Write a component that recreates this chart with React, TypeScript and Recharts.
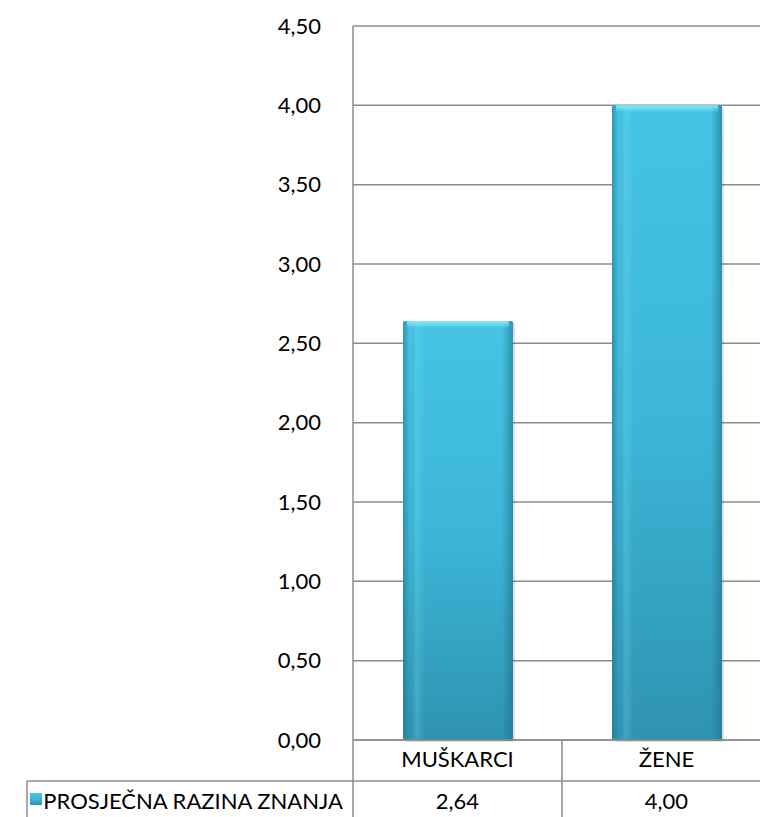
import { BarChart, Bar, XAxis, YAxis, CartesianGrid } from 'recharts';

const categories = ['MUŠKARCI', 'ŽENE'];
const values = [2.64, 4.0];
const seriesName = 'PROSJEČNA RAZINA ZNANJA';
const yTicks = [0, 0.5, 1, 1.5, 2, 2.5, 3, 3.5, 4, 4.5];

const data = categories.map((name, i) => ({ name, value: values[i] }));

const W = 771;
const H = 817;
const AXIS_W = 353;
const TOP = 26;
const TABLE_H = 77;
const PLOT_BOTTOM = H - TABLE_H;
const BAND = (W - AXIS_W) / categories.length;
const LINE = '#8c8c8c';
const FONT = 'Lato, sans-serif';
const FS = 22;
const LEGEND_LEFT = 27;

const fmt = (v: number) => v.toFixed(2).replace('.', ',');

function GlossBar(props: any) {
  const { x, y, width, height } = props;
  if (!height || height <= 0) return null;
  return (
    <g>
      <rect x={x + 2} y={y + 2} width={width} height={height} fill="#000" opacity={0.12} rx={2} />
      <rect x={x} y={y} width={width} height={height} fill="url(#barV)" rx={2} />
      <rect x={x} y={y} width={width} height={height} fill="url(#barH)" rx={2} />
      <rect x={x + 4} y={y} width={width - 8} height={7} fill="url(#barTop)" />
    </g>
  );
}

function TableTick(props: any) {
  const { payload, index } = props;
  const cx = payload.coordinate;
  const right = cx + BAND / 2;
  const rowMid = PLOT_BOTTOM + 41;
  return (
    <g>
      <text x={cx} y={PLOT_BOTTOM + 27} textAnchor="middle" fontSize={FS} fontFamily={FONT} fill="#000">
        {payload.value}
      </text>
      <text x={cx} y={rowMid + 28} textAnchor="middle" fontSize={FS} fontFamily={FONT} fill="#000">
        {fmt(values[index])}
      </text>
      <line x1={cx - BAND / 2} x2={right} y1={rowMid} y2={rowMid} stroke={LINE} strokeWidth={1.5} />
      <line x1={right} x2={right} y1={PLOT_BOTTOM} y2={H} stroke={LINE} strokeWidth={1.5} />
      {index === 0 && (
        <g>
          <line x1={LEGEND_LEFT} x2={AXIS_W} y1={rowMid} y2={rowMid} stroke={LINE} strokeWidth={1.5} />
          <line x1={LEGEND_LEFT} x2={LEGEND_LEFT} y1={rowMid} y2={H} stroke={LINE} strokeWidth={1.5} />
          <line x1={AXIS_W} x2={AXIS_W} y1={PLOT_BOTTOM} y2={H} stroke={LINE} strokeWidth={1.5} />
          <rect x={LEGEND_LEFT + 3} y={793} width={12} height={12} fill="url(#barV)" />
          <text x={AXIS_W - 10} y={rowMid + 28} textAnchor="end" fontSize={FS} fontFamily={FONT} fill="#000">
            {seriesName}
          </text>
        </g>
      )}
    </g>
  );
}

export default function App() {
  return (
    <div style={{ position: 'absolute', left: 0, top: 0, width: 760, height: 817, overflow: 'hidden', background: '#fff' }}>
      <BarChart width={W} height={H} data={data} margin={{ top: TOP, right: 0, bottom: 0, left: 0 }}>
        <defs>
          <linearGradient id="barV" x1="0" y1="0" x2="0" y2="1">
            <stop offset="0%" stopColor="#45c4e4" />
            <stop offset="50%" stopColor="#3cb6d8" />
            <stop offset="100%" stopColor="#2e93b0" />
          </linearGradient>
          <linearGradient id="barH" x1="0" y1="0" x2="1" y2="0">
            <stop offset="0%" stopColor="#1f6f86" stopOpacity={0.55} />
            <stop offset="6%" stopColor="#1f6f86" stopOpacity={0} />
            <stop offset="12%" stopColor="#7fe0f2" stopOpacity={0.25} />
            <stop offset="20%" stopColor="#7fe0f2" stopOpacity={0} />
            <stop offset="90%" stopColor="#1f6f86" stopOpacity={0} />
            <stop offset="100%" stopColor="#1f6f86" stopOpacity={0.6} />
          </linearGradient>
          <linearGradient id="barTop" x1="0" y1="0" x2="0" y2="1">
            <stop offset="0%" stopColor="#8ef0ff" stopOpacity={0.9} />
            <stop offset="100%" stopColor="#8ef0ff" stopOpacity={0} />
          </linearGradient>
        </defs>
        <CartesianGrid vertical={false} stroke={LINE} strokeWidth={1.5} />
        <XAxis
          dataKey="name"
          height={TABLE_H}
          axisLine={{ stroke: LINE, strokeWidth: 1.5 }}
          tickLine={false}
          tick={<TableTick />}
          interval={0}
        />
        <YAxis
          width={AXIS_W}
          domain={[0, 4.5]}
          ticks={yTicks}
          tickFormatter={fmt}
          axisLine={{ stroke: LINE, strokeWidth: 1.5 }}
          tickLine={false}
          tickMargin={26}
          tick={{ fontSize: FS, fontFamily: FONT, fill: '#000' }}
        />
        <Bar dataKey="value" barSize={110} shape={<GlossBar />} isAnimationActive={false} />
      </BarChart>
    </div>
  );
}
